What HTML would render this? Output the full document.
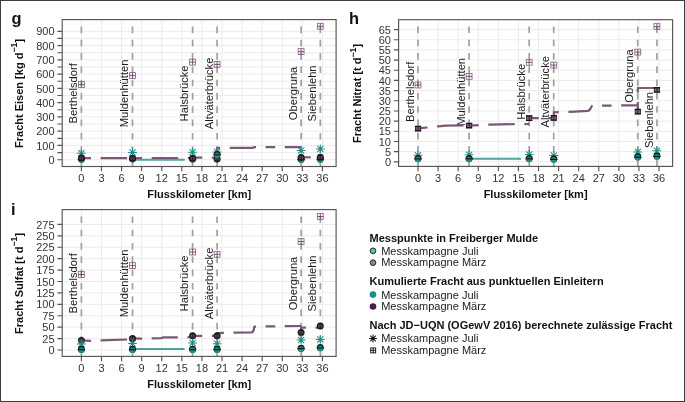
<!DOCTYPE html>
<html><head><meta charset="utf-8"><style>
html,body{margin:0;padding:0;background:#fff;width:685px;height:402px;overflow:hidden;}
svg{display:block;font-family:"Liberation Sans", sans-serif;will-change:transform;}
</style></head><body>
<svg width="685" height="402" viewBox="0 0 685 402">
<rect x="0" y="0" width="685" height="402" fill="#fff"/>
<path d="M62.20 159.70H336.10 M62.20 152.57H336.10 M62.20 145.43H336.10 M62.20 138.30H336.10 M62.20 131.17H336.10 M62.20 124.03H336.10 M62.20 116.90H336.10 M62.20 109.77H336.10 M62.20 102.63H336.10 M62.20 95.50H336.10 M62.20 88.37H336.10 M62.20 81.23H336.10 M62.20 74.10H336.10 M62.20 66.97H336.10 M62.20 59.83H336.10 M62.20 52.70H336.10 M62.20 45.57H336.10 M62.20 38.43H336.10 M62.20 31.30H336.10 M81.40 19.60V166.50 M101.49 19.60V166.50 M121.57 19.60V166.50 M141.66 19.60V166.50 M161.74 19.60V166.50 M181.83 19.60V166.50 M201.91 19.60V166.50 M222.00 19.60V166.50 M242.08 19.60V166.50 M262.17 19.60V166.50 M282.25 19.60V166.50 M302.34 19.60V166.50 M322.42 19.60V166.50" stroke="#ebebeb" stroke-width="1" fill="none"/>
<path d="M81.40 166.15V20.10 M132.48 166.15V20.10 M192.60 166.15V20.10 M217.11 166.15V20.10 M301.13 166.15V20.10 M320.34 166.15V20.10" stroke="#a0a0a0" stroke-width="1.7" stroke-dasharray="6.65 6.65" fill="none"/>
<text transform="translate(77.10 93.40) rotate(-90)" text-anchor="middle" font-size="11.2" fill="#1a1a1a">Berthelsdorf</text>
<text transform="translate(128.18 93.40) rotate(-90)" text-anchor="middle" font-size="11.2" fill="#1a1a1a">Muldenhütten</text>
<text transform="translate(188.30 93.40) rotate(-90)" text-anchor="middle" font-size="11.2" fill="#1a1a1a">Halsbrücke</text>
<text transform="translate(212.81 93.40) rotate(-90)" text-anchor="middle" font-size="11.2" fill="#1a1a1a">Altväterbrücke</text>
<text transform="translate(296.83 93.40) rotate(-90)" text-anchor="middle" font-size="11.2" fill="#1a1a1a">Obergruna</text>
<text transform="translate(316.04 93.40) rotate(-90)" text-anchor="middle" font-size="11.2" fill="#1a1a1a">Siebenlehn</text>
<rect x="62.20" y="19.60" width="273.90" height="146.90" fill="none" stroke="#555" stroke-width="1.15"/>
<path d="M57.40 159.70H62.20 M57.40 152.57H62.20 M57.40 145.43H62.20 M57.40 138.30H62.20 M57.40 131.17H62.20 M57.40 124.03H62.20 M57.40 116.90H62.20 M57.40 109.77H62.20 M57.40 102.63H62.20 M57.40 95.50H62.20 M57.40 88.37H62.20 M57.40 81.23H62.20 M57.40 74.10H62.20 M57.40 66.97H62.20 M57.40 59.83H62.20 M57.40 52.70H62.20 M57.40 45.57H62.20 M57.40 38.43H62.20 M57.40 31.30H62.20 M81.40 166.50V171.30 M101.49 166.50V171.30 M121.57 166.50V171.30 M141.66 166.50V171.30 M161.74 166.50V171.30 M181.83 166.50V171.30 M201.91 166.50V171.30 M222.00 166.50V171.30 M242.08 166.50V171.30 M262.17 166.50V171.30 M282.25 166.50V171.30 M302.34 166.50V171.30 M322.42 166.50V171.30" stroke="#555" stroke-width="1.15" fill="none"/>
<text x="54.60" y="163.85" text-anchor="end" font-size="11" fill="#333">0</text>
<text x="54.60" y="149.58" text-anchor="end" font-size="11" fill="#333">100</text>
<text x="54.60" y="135.32" text-anchor="end" font-size="11" fill="#333">200</text>
<text x="54.60" y="121.05" text-anchor="end" font-size="11" fill="#333">300</text>
<text x="54.60" y="106.78" text-anchor="end" font-size="11" fill="#333">400</text>
<text x="54.60" y="92.52" text-anchor="end" font-size="11" fill="#333">500</text>
<text x="54.60" y="78.25" text-anchor="end" font-size="11" fill="#333">600</text>
<text x="54.60" y="63.98" text-anchor="end" font-size="11" fill="#333">700</text>
<text x="54.60" y="49.72" text-anchor="end" font-size="11" fill="#333">800</text>
<text x="54.60" y="35.45" text-anchor="end" font-size="11" fill="#333">900</text>
<text x="81.40" y="182.30" text-anchor="middle" font-size="11" fill="#333">0</text>
<text x="101.49" y="182.30" text-anchor="middle" font-size="11" fill="#333">3</text>
<text x="121.57" y="182.30" text-anchor="middle" font-size="11" fill="#333">6</text>
<text x="141.66" y="182.30" text-anchor="middle" font-size="11" fill="#333">9</text>
<text x="161.74" y="182.30" text-anchor="middle" font-size="11" fill="#333">12</text>
<text x="181.83" y="182.30" text-anchor="middle" font-size="11" fill="#333">15</text>
<text x="201.91" y="182.30" text-anchor="middle" font-size="11" fill="#333">18</text>
<text x="222.00" y="182.30" text-anchor="middle" font-size="11" fill="#333">21</text>
<text x="242.08" y="182.30" text-anchor="middle" font-size="11" fill="#333">24</text>
<text x="262.17" y="182.30" text-anchor="middle" font-size="11" fill="#333">27</text>
<text x="282.25" y="182.30" text-anchor="middle" font-size="11" fill="#333">30</text>
<text x="302.34" y="182.30" text-anchor="middle" font-size="11" fill="#333">33</text>
<text x="322.42" y="182.30" text-anchor="middle" font-size="11" fill="#333">36</text>
<text x="199.15" y="198.10" text-anchor="middle" font-size="11" font-weight="bold" fill="#111">Flusskilometer [km]</text>
<text transform="translate(22.70 93.45) rotate(-90)" text-anchor="middle" font-size="11" font-weight="bold" fill="#111">Fracht Eisen [kg d<tspan font-size="8.8" dy="-5.4">−1</tspan><tspan dy="5.4">]</tspan></text>
<text x="11.6" y="23.9" font-size="16.4" font-weight="bold" fill="#111">g</text>
<path d="M398.60 161.80H672.60 M398.60 151.63H672.60 M398.60 141.46H672.60 M398.60 131.29H672.60 M398.60 121.12H672.60 M398.60 110.95H672.60 M398.60 100.78H672.60 M398.60 90.61H672.60 M398.60 80.44H672.60 M398.60 70.27H672.60 M398.60 60.10H672.60 M398.60 49.93H672.60 M398.60 39.76H672.60 M398.60 29.59H672.60 M418.00 19.70V166.40 M438.08 19.70V166.40 M458.17 19.70V166.40 M478.25 19.70V166.40 M498.34 19.70V166.40 M518.42 19.70V166.40 M538.51 19.70V166.40 M558.60 19.70V166.40 M578.68 19.70V166.40 M598.76 19.70V166.40 M618.85 19.70V166.40 M638.93 19.70V166.40 M659.02 19.70V166.40" stroke="#ebebeb" stroke-width="1" fill="none"/>
<path d="M418.00 166.05V20.20 M469.08 166.05V20.20 M529.20 166.05V20.20 M553.71 166.05V20.20 M637.73 166.05V20.20 M656.94 166.05V20.20" stroke="#a0a0a0" stroke-width="1.7" stroke-dasharray="6.65 6.65" fill="none"/>
<text transform="translate(413.70 91.80) rotate(-90)" text-anchor="middle" font-size="11.2" fill="#1a1a1a">Berthelsdorf</text>
<text transform="translate(464.78 91.80) rotate(-90)" text-anchor="middle" font-size="11.2" fill="#1a1a1a">Muldenhütten</text>
<text transform="translate(524.90 91.80) rotate(-90)" text-anchor="middle" font-size="11.2" fill="#1a1a1a">Halsbrücke</text>
<text transform="translate(549.41 91.80) rotate(-90)" text-anchor="middle" font-size="11.2" fill="#1a1a1a">Altväterbrücke</text>
<text transform="translate(633.43 76.00) rotate(-90)" text-anchor="middle" font-size="11.2" fill="#1a1a1a">Obergruna</text>
<text transform="translate(652.64 119.90) rotate(-90)" text-anchor="middle" font-size="11.2" fill="#1a1a1a">Siebenlehn</text>
<rect x="398.60" y="19.70" width="274.00" height="146.70" fill="none" stroke="#555" stroke-width="1.15"/>
<path d="M393.80 161.80H398.60 M393.80 151.63H398.60 M393.80 141.46H398.60 M393.80 131.29H398.60 M393.80 121.12H398.60 M393.80 110.95H398.60 M393.80 100.78H398.60 M393.80 90.61H398.60 M393.80 80.44H398.60 M393.80 70.27H398.60 M393.80 60.10H398.60 M393.80 49.93H398.60 M393.80 39.76H398.60 M393.80 29.59H398.60 M418.00 166.40V171.20 M438.08 166.40V171.20 M458.17 166.40V171.20 M478.25 166.40V171.20 M498.34 166.40V171.20 M518.42 166.40V171.20 M538.51 166.40V171.20 M558.60 166.40V171.20 M578.68 166.40V171.20 M598.76 166.40V171.20 M618.85 166.40V171.20 M638.93 166.40V171.20 M659.02 166.40V171.20" stroke="#555" stroke-width="1.15" fill="none"/>
<text x="391.00" y="165.95" text-anchor="end" font-size="11" fill="#333">0</text>
<text x="391.00" y="155.78" text-anchor="end" font-size="11" fill="#333">5</text>
<text x="391.00" y="145.61" text-anchor="end" font-size="11" fill="#333">10</text>
<text x="391.00" y="135.44" text-anchor="end" font-size="11" fill="#333">15</text>
<text x="391.00" y="125.27" text-anchor="end" font-size="11" fill="#333">20</text>
<text x="391.00" y="115.10" text-anchor="end" font-size="11" fill="#333">25</text>
<text x="391.00" y="104.93" text-anchor="end" font-size="11" fill="#333">30</text>
<text x="391.00" y="94.76" text-anchor="end" font-size="11" fill="#333">35</text>
<text x="391.00" y="84.59" text-anchor="end" font-size="11" fill="#333">40</text>
<text x="391.00" y="74.42" text-anchor="end" font-size="11" fill="#333">45</text>
<text x="391.00" y="64.25" text-anchor="end" font-size="11" fill="#333">50</text>
<text x="391.00" y="54.08" text-anchor="end" font-size="11" fill="#333">55</text>
<text x="391.00" y="43.91" text-anchor="end" font-size="11" fill="#333">60</text>
<text x="391.00" y="33.74" text-anchor="end" font-size="11" fill="#333">65</text>
<text x="418.00" y="182.20" text-anchor="middle" font-size="11" fill="#333">0</text>
<text x="438.08" y="182.20" text-anchor="middle" font-size="11" fill="#333">3</text>
<text x="458.17" y="182.20" text-anchor="middle" font-size="11" fill="#333">6</text>
<text x="478.25" y="182.20" text-anchor="middle" font-size="11" fill="#333">9</text>
<text x="498.34" y="182.20" text-anchor="middle" font-size="11" fill="#333">12</text>
<text x="518.42" y="182.20" text-anchor="middle" font-size="11" fill="#333">15</text>
<text x="538.51" y="182.20" text-anchor="middle" font-size="11" fill="#333">18</text>
<text x="558.60" y="182.20" text-anchor="middle" font-size="11" fill="#333">21</text>
<text x="578.68" y="182.20" text-anchor="middle" font-size="11" fill="#333">24</text>
<text x="598.76" y="182.20" text-anchor="middle" font-size="11" fill="#333">27</text>
<text x="618.85" y="182.20" text-anchor="middle" font-size="11" fill="#333">30</text>
<text x="638.93" y="182.20" text-anchor="middle" font-size="11" fill="#333">33</text>
<text x="659.02" y="182.20" text-anchor="middle" font-size="11" fill="#333">36</text>
<text x="535.60" y="198.00" text-anchor="middle" font-size="11" font-weight="bold" fill="#111">Flusskilometer [km]</text>
<text transform="translate(360.90 93.45) rotate(-90)" text-anchor="middle" font-size="11" font-weight="bold" fill="#111">Fracht Nitrat [t d<tspan font-size="8.8" dy="-5.4">−1</tspan><tspan dy="5.4">]</tspan></text>
<text x="349.0" y="24.1" font-size="16.4" font-weight="bold" fill="#111">h</text>
<path d="M62.20 350.00H336.10 M62.20 338.58H336.10 M62.20 327.17H336.10 M62.20 315.75H336.10 M62.20 304.33H336.10 M62.20 292.91H336.10 M62.20 281.50H336.10 M62.20 270.08H336.10 M62.20 258.66H336.10 M62.20 247.24H336.10 M62.20 235.82H336.10 M62.20 224.41H336.10 M81.40 209.60V356.40 M101.49 209.60V356.40 M121.57 209.60V356.40 M141.66 209.60V356.40 M161.74 209.60V356.40 M181.83 209.60V356.40 M201.91 209.60V356.40 M222.00 209.60V356.40 M242.08 209.60V356.40 M262.17 209.60V356.40 M282.25 209.60V356.40 M302.34 209.60V356.40 M322.42 209.60V356.40" stroke="#ebebeb" stroke-width="1" fill="none"/>
<path d="M81.40 356.05V210.10 M132.48 356.05V210.10 M192.60 356.05V210.10 M217.11 356.05V210.10 M301.13 356.05V210.10 M320.34 356.05V210.10" stroke="#a0a0a0" stroke-width="1.7" stroke-dasharray="6.65 6.65" fill="none"/>
<text transform="translate(77.10 283.40) rotate(-90)" text-anchor="middle" font-size="11.2" fill="#1a1a1a">Berthelsdorf</text>
<text transform="translate(128.18 283.40) rotate(-90)" text-anchor="middle" font-size="11.2" fill="#1a1a1a">Muldenhütten</text>
<text transform="translate(188.30 283.40) rotate(-90)" text-anchor="middle" font-size="11.2" fill="#1a1a1a">Halsbrücke</text>
<text transform="translate(212.81 283.40) rotate(-90)" text-anchor="middle" font-size="11.2" fill="#1a1a1a">Altväterbrücke</text>
<text transform="translate(296.83 283.40) rotate(-90)" text-anchor="middle" font-size="11.2" fill="#1a1a1a">Obergruna</text>
<text transform="translate(316.04 283.40) rotate(-90)" text-anchor="middle" font-size="11.2" fill="#1a1a1a">Siebenlehn</text>
<rect x="62.20" y="209.60" width="273.90" height="146.80" fill="none" stroke="#555" stroke-width="1.15"/>
<path d="M57.40 350.00H62.20 M57.40 338.58H62.20 M57.40 327.17H62.20 M57.40 315.75H62.20 M57.40 304.33H62.20 M57.40 292.91H62.20 M57.40 281.50H62.20 M57.40 270.08H62.20 M57.40 258.66H62.20 M57.40 247.24H62.20 M57.40 235.82H62.20 M57.40 224.41H62.20 M81.40 356.40V361.20 M101.49 356.40V361.20 M121.57 356.40V361.20 M141.66 356.40V361.20 M161.74 356.40V361.20 M181.83 356.40V361.20 M201.91 356.40V361.20 M222.00 356.40V361.20 M242.08 356.40V361.20 M262.17 356.40V361.20 M282.25 356.40V361.20 M302.34 356.40V361.20 M322.42 356.40V361.20" stroke="#555" stroke-width="1.15" fill="none"/>
<text x="54.60" y="354.15" text-anchor="end" font-size="11" fill="#333">0</text>
<text x="54.60" y="342.73" text-anchor="end" font-size="11" fill="#333">25</text>
<text x="54.60" y="331.31" text-anchor="end" font-size="11" fill="#333">50</text>
<text x="54.60" y="319.90" text-anchor="end" font-size="11" fill="#333">75</text>
<text x="54.60" y="308.48" text-anchor="end" font-size="11" fill="#333">100</text>
<text x="54.60" y="297.06" text-anchor="end" font-size="11" fill="#333">125</text>
<text x="54.60" y="285.64" text-anchor="end" font-size="11" fill="#333">150</text>
<text x="54.60" y="274.23" text-anchor="end" font-size="11" fill="#333">175</text>
<text x="54.60" y="262.81" text-anchor="end" font-size="11" fill="#333">200</text>
<text x="54.60" y="251.39" text-anchor="end" font-size="11" fill="#333">225</text>
<text x="54.60" y="239.97" text-anchor="end" font-size="11" fill="#333">250</text>
<text x="54.60" y="228.56" text-anchor="end" font-size="11" fill="#333">275</text>
<text x="81.40" y="372.20" text-anchor="middle" font-size="11" fill="#333">0</text>
<text x="101.49" y="372.20" text-anchor="middle" font-size="11" fill="#333">3</text>
<text x="121.57" y="372.20" text-anchor="middle" font-size="11" fill="#333">6</text>
<text x="141.66" y="372.20" text-anchor="middle" font-size="11" fill="#333">9</text>
<text x="161.74" y="372.20" text-anchor="middle" font-size="11" fill="#333">12</text>
<text x="181.83" y="372.20" text-anchor="middle" font-size="11" fill="#333">15</text>
<text x="201.91" y="372.20" text-anchor="middle" font-size="11" fill="#333">18</text>
<text x="222.00" y="372.20" text-anchor="middle" font-size="11" fill="#333">21</text>
<text x="242.08" y="372.20" text-anchor="middle" font-size="11" fill="#333">24</text>
<text x="262.17" y="372.20" text-anchor="middle" font-size="11" fill="#333">27</text>
<text x="282.25" y="372.20" text-anchor="middle" font-size="11" fill="#333">30</text>
<text x="302.34" y="372.20" text-anchor="middle" font-size="11" fill="#333">33</text>
<text x="322.42" y="372.20" text-anchor="middle" font-size="11" fill="#333">36</text>
<text x="199.15" y="388.00" text-anchor="middle" font-size="11" font-weight="bold" fill="#111">Flusskilometer [km]</text>
<text transform="translate(22.70 283.40) rotate(-90)" text-anchor="middle" font-size="11" font-weight="bold" fill="#111">Fracht Sulfat [t d<tspan font-size="8.8" dy="-5.4">−1</tspan><tspan dy="5.4">]</tspan></text>
<text x="11.1" y="215.4" font-size="16.4" font-weight="bold" fill="#111">i</text>
<text x="369.5" y="241.8" font-size="11" font-weight="bold" fill="#111">Messpunkte in Freiberger Mulde</text>
<circle cx="373" cy="250.8" r="2.85" fill="#5cbcb6" stroke="#1a1a1a" stroke-width="0.9"/>
<text x="381.2" y="254.9" font-size="11" fill="#1a1a1a">Messkampagne Juli</text>
<circle cx="373" cy="262.7" r="2.85" fill="#9c7b9a" stroke="#1a1a1a" stroke-width="0.9"/>
<text x="381.2" y="266.4" font-size="11" fill="#1a1a1a">Messkampagne März</text>
<text x="369.5" y="285.4" font-size="11" font-weight="bold" fill="#111">Kumulierte Fracht aus punktuellen Einleitern</text>
<circle cx="373" cy="294.6" r="3.3" fill="#1d8b86"/>
<text x="381.2" y="298.6" font-size="11" fill="#1a1a1a">Messkampagne Juli</text>
<circle cx="373" cy="306.5" r="3.3" fill="#4d1c4b"/>
<text x="381.2" y="310.3" font-size="11" fill="#1a1a1a">Messkampagne März</text>
<text x="369.5" y="329.1" font-size="11" font-weight="bold" fill="#111">Nach JD−UQN (OGewV 2016) berechnete zulässige Fracht</text>
<path d="M369.10 338.50H376.90M373.00 334.60V342.40M370.24 335.74L375.76 341.26M370.24 341.26L375.76 335.74" stroke="#111" stroke-width="1.05" fill="none"/>
<text x="381.2" y="342.1" font-size="11" fill="#1a1a1a">Messkampagne Juli</text>
<rect x="370.75" y="347.95" width="4.90" height="4.90" fill="none" stroke="#111" stroke-width="0.95"/><path d="M370.75 350.40H375.65M373.20 347.95V352.85" stroke="#111" stroke-width="0.95"/>
<text x="381.2" y="353.9" font-size="11" fill="#1a1a1a">Messkampagne März</text>
<path d="M132.5 159.7H184.8" stroke="#4ea39e" stroke-width="2.0" fill="none"/>
<path d="M81.4 158.2H132.5" stroke="#7a5876" stroke-width="2.2" fill="none" stroke-dasharray="9.6 9.6 26.5 9.6" stroke-linejoin="round"/>
<path d="M132.5 158.0H192.6" stroke="#7a5876" stroke-width="2.2" fill="none" stroke-dasharray="9.6 9.6 26.5 9.6" stroke-linejoin="round"/>
<path d="M192.6 157.7H217.1" stroke="#7a5876" stroke-width="2.2" fill="none" stroke-dasharray="9.6 9.6 26.5 9.6" stroke-linejoin="round"/>
<path d="M217.1 154.4V147.8H253L254 147.1H301.1" stroke="#7a5876" stroke-width="2.2" fill="none" stroke-dasharray="9.6 9.6 26.5 9.6" stroke-linejoin="round"/>
<path d="M301.1 157.3H320.3" stroke="#7a5876" stroke-width="2.2" fill="none" stroke-dasharray="9.6 9.6 26.5 9.6" stroke-linejoin="round"/>
<circle cx="81.40" cy="159.00" r="3.5" fill="#161616"/>
<circle cx="81.40" cy="159.90" r="2.9" fill="#1d8b86"/>
<path d="M77.80 159.40H85.00" stroke="#111" stroke-width="1.1"/>
<path d="M77.00 153.30H85.80M81.40 148.90V157.70M78.29 150.19L84.51 156.41M78.29 156.41L84.51 150.19" stroke="#1f8e89" stroke-width="1.05" fill="none"/>
<circle cx="81.40" cy="158.00" r="3.5" fill="#1c1a1e"/>
<ellipse cx="81.40" cy="158.00" rx="2.3" ry="1.9" fill="#5a4058"/>
<path d="M81.40 155.80V160.20" stroke="#1a141a" stroke-width="0.8"/>
<rect x="78.45" y="81.65" width="5.90" height="5.90" fill="none" stroke="#8a6588" stroke-width="0.85"/>
<path d="M78.45 84.60H84.35M81.40 81.65V87.55" stroke="#6e3f6b" stroke-width="0.9"/>
<circle cx="132.50" cy="158.80" r="3.5" fill="#161616"/>
<circle cx="132.50" cy="159.70" r="2.9" fill="#1d8b86"/>
<path d="M128.90 159.20H136.10" stroke="#111" stroke-width="1.1"/>
<path d="M128.10 152.50H136.90M132.50 148.10V156.90M129.39 149.39L135.61 155.61M129.39 155.61L135.61 149.39" stroke="#1f8e89" stroke-width="1.05" fill="none"/>
<circle cx="132.50" cy="158.20" r="3.5" fill="#1c1a1e"/>
<ellipse cx="132.50" cy="158.20" rx="2.3" ry="1.9" fill="#5a4058"/>
<path d="M132.50 156.00V160.40" stroke="#1a141a" stroke-width="0.8"/>
<rect x="129.55" y="72.65" width="5.90" height="5.90" fill="none" stroke="#8a6588" stroke-width="0.85"/>
<path d="M129.55 75.60H135.45M132.50 72.65V78.55" stroke="#6e3f6b" stroke-width="0.9"/>
<circle cx="192.60" cy="158.90" r="3.5" fill="#161616"/>
<circle cx="192.60" cy="159.80" r="2.9" fill="#1d8b86"/>
<path d="M189.00 159.30H196.20" stroke="#111" stroke-width="1.1"/>
<path d="M188.20 152.30H197.00M192.60 147.90V156.70M189.49 149.19L195.71 155.41M189.49 155.41L195.71 149.19" stroke="#1f8e89" stroke-width="1.05" fill="none"/>
<circle cx="192.60" cy="158.30" r="3.5" fill="#1c1a1e"/>
<ellipse cx="192.60" cy="158.30" rx="2.3" ry="1.9" fill="#5a4058"/>
<path d="M192.60 156.10V160.50" stroke="#1a141a" stroke-width="0.8"/>
<rect x="189.65" y="59.15" width="5.90" height="5.90" fill="none" stroke="#8a6588" stroke-width="0.85"/>
<path d="M189.65 62.10H195.55M192.60 59.15V65.05" stroke="#6e3f6b" stroke-width="0.9"/>
<circle cx="217.10" cy="158.90" r="3.5" fill="#1c1a1e"/>
<ellipse cx="217.10" cy="158.90" rx="2.3" ry="1.9" fill="#5a4058"/>
<path d="M217.10 156.70V161.10" stroke="#1a141a" stroke-width="0.8"/>
<path d="M212.70 152.00H221.50M217.10 147.60V156.40M213.99 148.89L220.21 155.11M213.99 155.11L220.21 148.89" stroke="#1f8e89" stroke-width="1.05" fill="none"/>
<circle cx="217.10" cy="154.40" r="3.5" fill="#161616"/>
<circle cx="217.10" cy="155.30" r="2.9" fill="#1d8b86"/>
<path d="M213.50 154.80H220.70" stroke="#111" stroke-width="1.1"/>
<rect x="214.15" y="61.45" width="5.90" height="5.90" fill="none" stroke="#8a6588" stroke-width="0.85"/>
<path d="M214.15 64.40H220.05M217.10 61.45V67.35" stroke="#6e3f6b" stroke-width="0.9"/>
<circle cx="301.10" cy="159.20" r="3.5" fill="#161616"/>
<circle cx="301.10" cy="160.10" r="2.9" fill="#1d8b86"/>
<path d="M297.50 159.60H304.70" stroke="#111" stroke-width="1.1"/>
<path d="M296.70 150.50H305.50M301.10 146.10V154.90M297.99 147.39L304.21 153.61M297.99 153.61L304.21 147.39" stroke="#1f8e89" stroke-width="1.05" fill="none"/>
<circle cx="301.10" cy="157.60" r="3.5" fill="#1c1a1e"/>
<ellipse cx="301.10" cy="157.60" rx="2.3" ry="1.9" fill="#5a4058"/>
<path d="M301.10 155.40V159.80" stroke="#1a141a" stroke-width="0.8"/>
<rect x="298.15" y="48.65" width="5.90" height="5.90" fill="none" stroke="#8a6588" stroke-width="0.85"/>
<path d="M298.15 51.60H304.05M301.10 48.65V54.55" stroke="#6e3f6b" stroke-width="0.9"/>
<circle cx="320.30" cy="159.00" r="3.5" fill="#161616"/>
<circle cx="320.30" cy="159.90" r="2.9" fill="#1d8b86"/>
<path d="M316.70 159.40H323.90" stroke="#111" stroke-width="1.1"/>
<path d="M315.90 148.90H324.70M320.30 144.50V153.30M317.19 145.79L323.41 152.01M317.19 152.01L323.41 145.79" stroke="#1f8e89" stroke-width="1.05" fill="none"/>
<circle cx="320.30" cy="157.30" r="3.5" fill="#1c1a1e"/>
<ellipse cx="320.30" cy="157.30" rx="2.3" ry="1.9" fill="#5a4058"/>
<path d="M320.30 155.10V159.50" stroke="#1a141a" stroke-width="0.8"/>
<rect x="317.35" y="23.35" width="5.90" height="5.90" fill="none" stroke="#8a6588" stroke-width="0.85"/>
<path d="M317.35 26.30H323.25M320.30 23.35V29.25" stroke="#6e3f6b" stroke-width="0.9"/>
<path d="M469.1 158.8H521.1" stroke="#4ea39e" stroke-width="2.0" fill="none"/>
<path d="M418 128.6L423 127.8L430 127.3L438 126.4L446 125.7L463 125.3L469.1 125.3" stroke="#7a5876" stroke-width="2.2" fill="none" stroke-dasharray="9.6 9.6 26.5 9.6" stroke-linejoin="round"/>
<path d="M469.1 125.6L479 125.2L489 124.6L515 124.1L529.2 124.0" stroke="#7a5876" stroke-width="2.2" fill="none" stroke-dasharray="9.6 9.6 26.5 9.6" stroke-linejoin="round"/>
<path d="M529.2 118.2H553.8" stroke="#7a5876" stroke-width="2.2" fill="none" stroke-dasharray="9.6 9.6 26.5 9.6" stroke-linejoin="round"/>
<path d="M553.8 117.0V112.4L575 111.6L587.5 110.9C589.8 110.7 590.6 108.5 591.2 107.2L592.3 105.7L603 105.6L637.8 105.3" stroke="#7a5876" stroke-width="2.2" fill="none" stroke-dasharray="9.6 9.6 26.5 9.6" stroke-linejoin="round"/>
<path d="M637.8 111.7V88.0H656.9" stroke="#7a5876" stroke-width="2.2" fill="none" stroke-dasharray="9.6 9.6 26.5 9.6" stroke-linejoin="round"/>
<rect x="415.40" y="126.50" width="5.2" height="4.2" fill="#86598a" stroke="#1a1a1a" stroke-width="0.8"/>
<path d="M414.80 126.30H421.20M414.80 130.90H421.20" stroke="#151515" stroke-width="1.15"/>
<path d="M418.00 126.30V130.90" stroke="#2a1a2a" stroke-width="0.9"/>
<path d="M413.60 155.20H422.40M418.00 150.80V159.60M414.89 152.09L421.11 158.31M414.89 158.31L421.11 152.09" stroke="#1f8e89" stroke-width="1.05" fill="none"/>
<circle cx="418.00" cy="158.50" r="3.5" fill="#161616"/>
<circle cx="418.00" cy="159.40" r="2.9" fill="#1d8b86"/>
<path d="M414.40 158.90H421.60" stroke="#111" stroke-width="1.1"/>
<rect x="415.05" y="82.05" width="5.90" height="5.90" fill="none" stroke="#8a6588" stroke-width="0.85"/>
<path d="M415.05 85.00H420.95M418.00 82.05V87.95" stroke="#6e3f6b" stroke-width="0.9"/>
<rect x="466.50" y="123.50" width="5.2" height="4.2" fill="#86598a" stroke="#1a1a1a" stroke-width="0.8"/>
<path d="M465.90 123.30H472.30M465.90 127.90H472.30" stroke="#151515" stroke-width="1.15"/>
<path d="M469.10 123.30V127.90" stroke="#2a1a2a" stroke-width="0.9"/>
<path d="M464.70 154.70H473.50M469.10 150.30V159.10M465.99 151.59L472.21 157.81M465.99 157.81L472.21 151.59" stroke="#1f8e89" stroke-width="1.05" fill="none"/>
<circle cx="469.10" cy="158.40" r="3.5" fill="#161616"/>
<circle cx="469.10" cy="159.30" r="2.9" fill="#1d8b86"/>
<path d="M465.50 158.80H472.70" stroke="#111" stroke-width="1.1"/>
<rect x="466.15" y="73.45" width="5.90" height="5.90" fill="none" stroke="#8a6588" stroke-width="0.85"/>
<path d="M466.15 76.40H472.05M469.10 73.45V79.35" stroke="#6e3f6b" stroke-width="0.9"/>
<rect x="526.60" y="116.10" width="5.2" height="4.2" fill="#86598a" stroke="#1a1a1a" stroke-width="0.8"/>
<path d="M526.00 115.90H532.40M526.00 120.50H532.40" stroke="#151515" stroke-width="1.15"/>
<path d="M529.20 115.90V120.50" stroke="#2a1a2a" stroke-width="0.9"/>
<path d="M524.80 154.50H533.60M529.20 150.10V158.90M526.09 151.39L532.31 157.61M526.09 157.61L532.31 151.39" stroke="#1f8e89" stroke-width="1.05" fill="none"/>
<circle cx="529.20" cy="158.40" r="3.5" fill="#161616"/>
<circle cx="529.20" cy="159.30" r="2.9" fill="#1d8b86"/>
<path d="M525.60 158.80H532.80" stroke="#111" stroke-width="1.1"/>
<rect x="526.25" y="59.35" width="5.90" height="5.90" fill="none" stroke="#8a6588" stroke-width="0.85"/>
<path d="M526.25 62.30H532.15M529.20 59.35V65.25" stroke="#6e3f6b" stroke-width="0.9"/>
<rect x="551.20" y="115.80" width="5.2" height="4.2" fill="#86598a" stroke="#1a1a1a" stroke-width="0.8"/>
<path d="M550.60 115.60H557.00M550.60 120.20H557.00" stroke="#151515" stroke-width="1.15"/>
<path d="M553.80 115.60V120.20" stroke="#2a1a2a" stroke-width="0.9"/>
<path d="M549.40 155.50H558.20M553.80 151.10V159.90M550.69 152.39L556.91 158.61M550.69 158.61L556.91 152.39" stroke="#1f8e89" stroke-width="1.05" fill="none"/>
<circle cx="553.80" cy="159.00" r="3.5" fill="#161616"/>
<circle cx="553.80" cy="159.90" r="2.9" fill="#1d8b86"/>
<path d="M550.20 159.40H557.40" stroke="#111" stroke-width="1.1"/>
<rect x="550.85" y="62.15" width="5.90" height="5.90" fill="none" stroke="#8a6588" stroke-width="0.85"/>
<path d="M550.85 65.10H556.75M553.80 62.15V68.05" stroke="#6e3f6b" stroke-width="0.9"/>
<rect x="635.20" y="109.60" width="5.2" height="4.2" fill="#86598a" stroke="#1a1a1a" stroke-width="0.8"/>
<path d="M634.60 109.40H641.00M634.60 114.00H641.00" stroke="#151515" stroke-width="1.15"/>
<path d="M637.80 109.40V114.00" stroke="#2a1a2a" stroke-width="0.9"/>
<path d="M633.40 152.00H642.20M637.80 147.60V156.40M634.69 148.89L640.91 155.11M634.69 155.11L640.91 148.89" stroke="#1f8e89" stroke-width="1.05" fill="none"/>
<circle cx="637.80" cy="156.80" r="3.5" fill="#161616"/>
<circle cx="637.80" cy="157.70" r="2.9" fill="#1d8b86"/>
<path d="M634.20 157.20H641.40" stroke="#111" stroke-width="1.1"/>
<rect x="634.85" y="49.15" width="5.90" height="5.90" fill="none" stroke="#8a6588" stroke-width="0.85"/>
<path d="M634.85 52.10H640.75M637.80 49.15V55.05" stroke="#6e3f6b" stroke-width="0.9"/>
<rect x="654.30" y="87.80" width="5.2" height="4.2" fill="#86598a" stroke="#1a1a1a" stroke-width="0.8"/>
<path d="M653.70 87.60H660.10M653.70 92.20H660.10" stroke="#151515" stroke-width="1.15"/>
<path d="M656.90 87.60V92.20" stroke="#2a1a2a" stroke-width="0.9"/>
<path d="M652.50 150.70H661.30M656.90 146.30V155.10M653.79 147.59L660.01 153.81M653.79 153.81L660.01 147.59" stroke="#1f8e89" stroke-width="1.05" fill="none"/>
<circle cx="656.90" cy="156.10" r="3.5" fill="#161616"/>
<circle cx="656.90" cy="157.00" r="2.9" fill="#1d8b86"/>
<path d="M653.30 156.50H660.50" stroke="#111" stroke-width="1.1"/>
<rect x="653.95" y="23.65" width="5.90" height="5.90" fill="none" stroke="#8a6588" stroke-width="0.85"/>
<path d="M653.95 26.60H659.85M656.90 23.65V29.55" stroke="#6e3f6b" stroke-width="0.9"/>
<path d="M132.5 349H184.6" stroke="#4ea39e" stroke-width="2.0" fill="none"/>
<path d="M81.4 340.5L91 340.8L101.4 340.4L127.4 339.5L132.5 339.5" stroke="#7a5876" stroke-width="2.2" fill="none" stroke-dasharray="9.6 9.6 26.5 9.6" stroke-linejoin="round"/>
<path d="M132.5 338.4L142.3 338.7L162 338.2L162.6 337.4L192.6 337.2" stroke="#7a5876" stroke-width="2.2" fill="none" stroke-dasharray="9.6 9.6 26.5 9.6" stroke-linejoin="round"/>
<path d="M192.6 335.8H217.1" stroke="#7a5876" stroke-width="2.2" fill="none" stroke-dasharray="9.6 9.6 26.5 9.6" stroke-linejoin="round"/>
<path d="M217.1 335.8V333L251.5 332.4C253.3 332.3 253.7 330.5 254 328.5L254.4 326.6L301.1 326" stroke="#7a5876" stroke-width="2.2" fill="none" stroke-dasharray="9.6 9.6 26.5 9.6" stroke-linejoin="round"/>
<path d="M301.1 332.4V327.7H320.3" stroke="#7a5876" stroke-width="2.2" fill="none" stroke-dasharray="9.6 9.6 26.5 9.6" stroke-linejoin="round"/>
<circle cx="81.40" cy="340.50" r="3.5" fill="#1c1a1e"/>
<ellipse cx="81.40" cy="340.50" rx="2.3" ry="1.9" fill="#5a4058"/>
<path d="M81.40 338.30V342.70" stroke="#1a141a" stroke-width="0.8"/>
<path d="M77.00 343.90H85.80M81.40 339.50V348.30M78.29 340.79L84.51 347.01M78.29 347.01L84.51 340.79" stroke="#1f8e89" stroke-width="1.05" fill="none"/>
<circle cx="81.40" cy="349.30" r="3.5" fill="#161616"/>
<circle cx="81.40" cy="350.20" r="2.9" fill="#1d8b86"/>
<path d="M77.80 349.70H85.00" stroke="#111" stroke-width="1.1"/>
<rect x="78.45" y="271.55" width="5.90" height="5.90" fill="none" stroke="#8a6588" stroke-width="0.85"/>
<path d="M78.45 274.50H84.35M81.40 271.55V277.45" stroke="#6e3f6b" stroke-width="0.9"/>
<circle cx="132.50" cy="338.40" r="3.5" fill="#1c1a1e"/>
<ellipse cx="132.50" cy="338.40" rx="2.3" ry="1.9" fill="#5a4058"/>
<path d="M132.50 336.20V340.60" stroke="#1a141a" stroke-width="0.8"/>
<path d="M128.10 343.50H136.90M132.50 339.10V347.90M129.39 340.39L135.61 346.61M129.39 346.61L135.61 340.39" stroke="#1f8e89" stroke-width="1.05" fill="none"/>
<circle cx="132.50" cy="349.30" r="3.5" fill="#161616"/>
<circle cx="132.50" cy="350.20" r="2.9" fill="#1d8b86"/>
<path d="M128.90 349.70H136.10" stroke="#111" stroke-width="1.1"/>
<rect x="129.55" y="262.65" width="5.90" height="5.90" fill="none" stroke="#8a6588" stroke-width="0.85"/>
<path d="M129.55 265.60H135.45M132.50 262.65V268.55" stroke="#6e3f6b" stroke-width="0.9"/>
<circle cx="192.60" cy="335.80" r="3.5" fill="#1c1a1e"/>
<ellipse cx="192.60" cy="335.80" rx="2.3" ry="1.9" fill="#5a4058"/>
<path d="M192.60 333.60V338.00" stroke="#1a141a" stroke-width="0.8"/>
<path d="M188.20 342.90H197.00M192.60 338.50V347.30M189.49 339.79L195.71 346.01M189.49 346.01L195.71 339.79" stroke="#1f8e89" stroke-width="1.05" fill="none"/>
<circle cx="192.60" cy="349.30" r="3.5" fill="#161616"/>
<circle cx="192.60" cy="350.20" r="2.9" fill="#1d8b86"/>
<path d="M189.00 349.70H196.20" stroke="#111" stroke-width="1.1"/>
<rect x="189.65" y="249.05" width="5.90" height="5.90" fill="none" stroke="#8a6588" stroke-width="0.85"/>
<path d="M189.65 252.00H195.55M192.60 249.05V254.95" stroke="#6e3f6b" stroke-width="0.9"/>
<circle cx="217.10" cy="335.80" r="3.5" fill="#1c1a1e"/>
<ellipse cx="217.10" cy="335.80" rx="2.3" ry="1.9" fill="#5a4058"/>
<path d="M217.10 333.60V338.00" stroke="#1a141a" stroke-width="0.8"/>
<path d="M212.70 343.70H221.50M217.10 339.30V348.10M213.99 340.59L220.21 346.81M213.99 346.81L220.21 340.59" stroke="#1f8e89" stroke-width="1.05" fill="none"/>
<circle cx="217.10" cy="349.30" r="3.5" fill="#161616"/>
<circle cx="217.10" cy="350.20" r="2.9" fill="#1d8b86"/>
<path d="M213.50 349.70H220.70" stroke="#111" stroke-width="1.1"/>
<rect x="214.15" y="251.35" width="5.90" height="5.90" fill="none" stroke="#8a6588" stroke-width="0.85"/>
<path d="M214.15 254.30H220.05M217.10 251.35V257.25" stroke="#6e3f6b" stroke-width="0.9"/>
<circle cx="301.10" cy="332.40" r="3.5" fill="#1c1a1e"/>
<ellipse cx="301.10" cy="332.40" rx="2.3" ry="1.9" fill="#5a4058"/>
<path d="M301.10 330.20V334.60" stroke="#1a141a" stroke-width="0.8"/>
<path d="M296.70 339.90H305.50M301.10 335.50V344.30M297.99 336.79L304.21 343.01M297.99 343.01L304.21 336.79" stroke="#1f8e89" stroke-width="1.05" fill="none"/>
<circle cx="301.10" cy="348.20" r="3.5" fill="#161616"/>
<circle cx="301.10" cy="349.10" r="2.9" fill="#1d8b86"/>
<path d="M297.50 348.60H304.70" stroke="#111" stroke-width="1.1"/>
<rect x="298.15" y="238.65" width="5.90" height="5.90" fill="none" stroke="#8a6588" stroke-width="0.85"/>
<path d="M298.15 241.60H304.05M301.10 238.65V244.55" stroke="#6e3f6b" stroke-width="0.9"/>
<circle cx="320.30" cy="326.00" r="3.5" fill="#1c1a1e"/>
<ellipse cx="320.30" cy="326.00" rx="2.3" ry="1.9" fill="#5a4058"/>
<path d="M320.30 323.80V328.20" stroke="#1a141a" stroke-width="0.8"/>
<path d="M315.90 339.40H324.70M320.30 335.00V343.80M317.19 336.29L323.41 342.51M317.19 342.51L323.41 336.29" stroke="#1f8e89" stroke-width="1.05" fill="none"/>
<circle cx="320.30" cy="347.50" r="3.5" fill="#161616"/>
<circle cx="320.30" cy="348.40" r="2.9" fill="#1d8b86"/>
<path d="M316.70 347.90H323.90" stroke="#111" stroke-width="1.1"/>
<rect x="317.35" y="213.55" width="5.90" height="5.90" fill="none" stroke="#8a6588" stroke-width="0.85"/>
<path d="M317.35 216.50H323.25M320.30 213.55V219.45" stroke="#6e3f6b" stroke-width="0.9"/>
<rect x="0.5" y="0.5" width="684" height="401" fill="none" stroke="#3c3c3c" stroke-width="1"/>
</svg>
</body></html>
